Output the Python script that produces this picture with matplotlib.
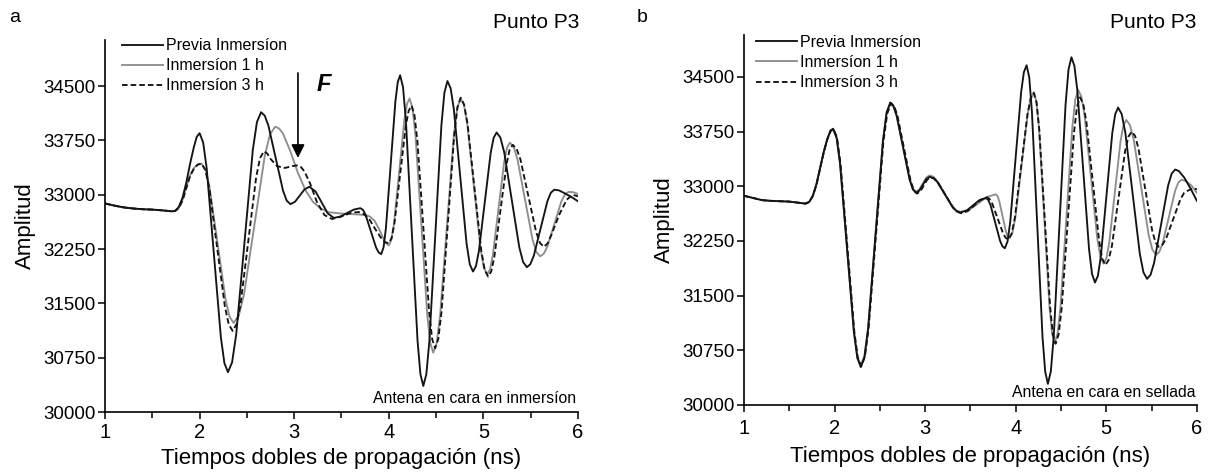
import matplotlib
matplotlib.use('Agg')
import matplotlib.pyplot as plt
from matplotlib.ticker import MultipleLocator

plt.rcParams['font.family'] = ['Liberation Sans', 'DejaVu Sans']

LABELS = ['Previa Inmersíon', 'Inmersíon 1 h', 'Inmersíon 3 h']
Y_TICKS = [30000, 30750, 31500, 32250, 33000, 33750, 34500]
X_TICKS = [1, 2, 3, 4, 5, 6]

# (tiempo ns, amplitud) leidos de la figura
# panel a - antena en cara en inmersion
a_prev = [(1.00, 32880), (1.10, 32850), (1.20, 32825), (1.30, 32810), (1.40, 32800), (1.50, 32795),
          (1.60, 32785), (1.70, 32772), (1.74, 32775), (1.78, 32830), (1.82, 32960), (1.86, 33170),
          (1.90, 33430), (1.94, 33660), (1.97, 33800), (2.00, 33850),
          (2.0375, 33725), (2.075, 33368), (2.15, 32200), (2.225, 31032), (2.2625, 30675), (2.30, 30550),
          (2.34375, 30686), (2.3875, 31074), (2.475, 32345), (2.5625, 33616), (2.60625, 34004), (2.65, 34140),
          (2.6888, 34092), (2.7275, 33955), (2.805, 33505), (2.8825, 33055), (2.9213, 32918), (2.96, 32870),
          (3.01, 32905), (3.06, 32990), (3.11, 33075), (3.16, 33110),
          (3.225, 33047), (3.29, 32895), (3.355, 32743), (3.42, 32680),
          (3.49, 32700), (3.56, 32748), (3.63, 32795), (3.70, 32815),
          (3.7275, 32791), (3.755, 32722), (3.81, 32498), (3.865, 32273), (3.8925, 32204), (3.92, 32180),
          (3.945, 32274), (3.97, 32541), (4.02, 33415), (4.07, 34289), (4.095, 34556), (4.12, 34650),
          (4.1506, 34487), (4.181, 34024), (4.2425, 32505), (4.304, 30986), (4.3344, 30523), (4.365, 30360),
          (4.3969, 30520), (4.429, 30975), (4.4925, 32465), (4.556, 33955), (4.5881, 34410), (4.62, 34570),
          (4.6538, 34470), (4.6875, 34186), (4.755, 33255), (4.8225, 32324), (4.8563, 32040), (4.89, 31940),
          (4.9213, 32013), (4.9525, 32220), (5.015, 32900), (5.0775, 33580), (5.1088, 33787), (5.14, 33860),
          (5.18, 33789), (5.22, 33588), (5.30, 32930), (5.38, 32272), (5.42, 32071), (5.46, 32000),
          (5.4963, 32041), (5.5325, 32156), (5.605, 32535), (5.6775, 32914), (5.7138, 33029), (5.75, 33070),
          (5.80, 33060), (5.86, 33020), (5.93, 32970), (6.00, 32910)]

a_1h = [(1.00, 32880), (1.10, 32850), (1.20, 32825), (1.30, 32810), (1.40, 32800), (1.50, 32795),
        (1.60, 32785), (1.70, 32772), (1.74, 32775), (1.78, 32820), (1.82, 32930), (1.86, 33110),
        (1.90, 33270), (1.94, 33370), (1.98, 33420), (2.02, 33430),
        (2.0625, 33346), (2.105, 33109), (2.19, 32330), (2.275, 31551), (2.3175, 31314), (2.36, 31230),
        (2.415, 31333), (2.47, 31626), (2.58, 32585), (2.69, 33544), (2.745, 33837), (2.80, 33940),
        (2.84, 33915), (2.88, 33850), (2.96, 33600), (3.04, 33300), (3.12, 33060), (3.20, 32900),
        (3.28, 32810), (3.36, 32760), (3.50, 32740), (3.65, 32730), (3.75, 32720), (3.80, 32700),
        (3.85, 32640), (3.90, 32520), (3.96, 32345), (4.00, 32300),
        (4.0275, 32377), (4.055, 32596), (4.11, 33315), (4.165, 34034), (4.1925, 34253), (4.22, 34330),
        (4.2513, 34197), (4.2825, 33818), (4.345, 32575), (4.4075, 31332), (4.4388, 30953), (4.47, 30820),
        (4.5063, 30953), (4.5425, 31332), (4.615, 32575), (4.6875, 33818), (4.7238, 34197), (4.76, 34330),
        (4.795, 34238), (4.83, 33975), (4.90, 33115), (4.97, 32255), (5.005, 31992), (5.04, 31900),
        (5.07, 31969), (5.10, 32166), (5.16, 32810), (5.22, 33454), (5.25, 33651), (5.28, 33720),
        (5.32, 33660), (5.36, 33491), (5.44, 32935), (5.52, 32379), (5.56, 32210), (5.60, 32150),
        (5.6375, 32184), (5.675, 32280), (5.75, 32595), (5.825, 32910), (5.8625, 33006), (5.90, 33040),
        (5.95, 33035), (6.00, 33010)]

a_3h = [(1.00, 32880), (1.10, 32850), (1.20, 32825), (1.30, 32810), (1.40, 32800), (1.50, 32795),
        (1.60, 32785), (1.70, 32772), (1.74, 32775), (1.78, 32815), (1.82, 32920), (1.86, 33090),
        (1.90, 33260), (1.94, 33360), (1.98, 33415), (2.02, 33430),
        (2.0613, 33342), (2.1025, 33093), (2.185, 32275), (2.2675, 31457), (2.3088, 31208), (2.35, 31120),
        (2.3913, 31214), (2.4325, 31482), (2.515, 32360), (2.5975, 33238), (2.6388, 33506), (2.68, 33600),
        (2.715, 33570), (2.75, 33495), (2.82, 33395), (2.90, 33370), (2.98, 33395), (3.03, 33405),
        (3.07, 33385), (3.11, 33320), (3.17, 33150), (3.24, 32900), (3.32, 32720), (3.40, 32665),
        (3.50, 32700), (3.60, 32750), (3.68, 32762), (3.74, 32730), (3.80, 32650), (3.86, 32520),
        (3.92, 32400), (3.96, 32345), (4.00, 32330),
        (4.03, 32402), (4.06, 32607), (4.12, 33280), (4.18, 33953), (4.21, 34158), (4.24, 34230),
        (4.2713, 34103), (4.3025, 33741), (4.365, 32555), (4.4275, 31369), (4.4588, 31007), (4.49, 30880),
        (4.5238, 31011), (4.5575, 31385), (4.625, 32610), (4.6925, 33835), (4.7263, 34209), (4.76, 34340),
        (4.7963, 34246), (4.8325, 33979), (4.905, 33105), (4.9775, 32231), (5.0138, 31964), (5.05, 31870),
        (5.0825, 31939), (5.115, 32136), (5.18, 32780), (5.245, 33424), (5.2775, 33621), (5.31, 33690),
        (5.3513, 33636), (5.3925, 33484), (5.475, 32985), (5.5575, 32486), (5.5988, 32334), (5.64, 32280),
        (5.68, 32330), (5.72, 32450), (5.80, 32720), (5.88, 32930), (5.94, 33000), (6.00, 32980)]

# panel b - antena en cara sellada
b_prev = [(1.00, 32870), (1.10, 32840), (1.20, 32810), (1.30, 32800), (1.40, 32795), (1.50, 32790),
          (1.60, 32775), (1.68, 32762), (1.72, 32785), (1.76, 32870), (1.80, 33030), (1.84, 33250),
          (1.88, 33470), (1.92, 33650), (1.955, 33765), (1.985, 33790),
          (2.0231, 33666), (2.061, 33313), (2.1375, 32155), (2.214, 30997), (2.2519, 30644), (2.29, 30520),
          (2.3306, 30658), (2.371, 31050), (2.4525, 32335), (2.534, 33620), (2.5744, 34012), (2.615, 34150),
          (2.6506, 34103), (2.686, 33969), (2.7575, 33530), (2.829, 33091), (2.8644, 32957), (2.90, 32910),
          (2.9375, 32942), (2.975, 33020), (3.0125, 33098), (3.05, 33130),
          (3.0925, 33111), (3.135, 33058), (3.22, 32885), (3.305, 32712), (3.3475, 32659), (3.39, 32640),
          (3.46, 32669), (3.53, 32740), (3.60, 32811), (3.67, 32840),
          (3.6963, 32814), (3.7225, 32739), (3.775, 32495), (3.8275, 32251), (3.8538, 32176), (3.88, 32150),
          (3.91, 32245), (3.94, 32516), (4.00, 33405), (4.06, 34294), (4.09, 34565), (4.12, 34660),
          (4.1494, 34494), (4.179, 34022), (4.2375, 32475), (4.296, 30928), (4.3256, 30456), (4.355, 30290),
          (4.3875, 30460), (4.42, 30944), (4.485, 32530), (4.55, 34116), (4.5825, 34600), (4.615, 34770),
          (4.6475, 34653), (4.68, 34319), (4.745, 33225), (4.81, 32131), (4.8425, 31797), (4.875, 31680),
          (4.9069, 31771), (4.939, 32030), (5.0025, 32880), (5.066, 33730), (5.0981, 33989), (5.13, 34080),
          (5.17, 33991), (5.21, 33737), (5.29, 32905), (5.37, 32073), (5.41, 31819), (5.45, 31730),
          (5.4888, 31787), (5.5275, 31949), (5.605, 32480), (5.6825, 33011), (5.7213, 33173), (5.76, 33230),
          (5.80, 33210), (5.86, 33120), (5.93, 32970), (6.00, 32800)]

b_1h = [(1.00, 32870), (1.10, 32840), (1.20, 32810), (1.30, 32800), (1.40, 32795), (1.50, 32790),
        (1.60, 32775), (1.68, 32762), (1.72, 32785), (1.76, 32865), (1.80, 33020), (1.84, 33240),
        (1.88, 33460), (1.92, 33640), (1.955, 33755), (1.985, 33780),
        (2.0231, 33660), (2.061, 33310), (2.1375, 32160), (2.214, 31010), (2.2519, 30660), (2.29, 30540),
        (2.3306, 30675), (2.371, 31060), (2.4525, 32340), (2.534, 33610), (2.5744, 33995), (2.615, 34130),
        (2.6506, 34090), (2.686, 33960), (2.7575, 33530), (2.829, 33100), (2.8644, 32970), (2.90, 32925),
        (2.9375, 32960), (2.975, 33040), (3.0125, 33120), (3.05, 33150),
        (3.0925, 33130), (3.135, 33070), (3.22, 32890), (3.305, 32715), (3.3475, 32665), (3.39, 32650),
        (3.4875, 32677), (3.585, 32765), (3.6825, 32853), (3.78, 32890),
        (3.7988, 32867), (3.8175, 32802), (3.855, 32590), (3.8925, 32378), (3.9113, 32313), (3.93, 32290),
        (3.9638, 32366), (3.9975, 32582), (4.065, 33290), (4.1325, 33998), (4.1663, 34214), (4.20, 34290),
        (4.2288, 34159), (4.2575, 33788), (4.315, 32570), (4.3725, 31352), (4.4013, 30981), (4.43, 30850),
        (4.4625, 30982), (4.495, 31357), (4.56, 32585), (4.625, 33813), (4.6575, 34188), (4.69, 34320),
        (4.725, 34230), (4.76, 33973), (4.83, 33130), (4.90, 32287), (4.935, 32030), (4.97, 31940),
        (5.0013, 32015), (5.0325, 32228), (5.095, 32925), (5.1575, 33622), (5.1888, 33835), (5.22, 33910),
        (5.2613, 33840), (5.3025, 33640), (5.385, 32985), (5.4675, 32330), (5.5088, 32130), (5.55, 32060),
        (5.585, 32099), (5.62, 32210), (5.69, 32575), (5.76, 32940), (5.795, 33051), (5.83, 33090),
        (5.88, 33070), (5.94, 33010), (6.00, 32910)]

b_3h = [(1.00, 32870), (1.10, 32840), (1.20, 32810), (1.30, 32800), (1.40, 32795), (1.50, 32790),
        (1.60, 32775), (1.68, 32762), (1.72, 32785), (1.76, 32865), (1.80, 33020), (1.84, 33240),
        (1.88, 33460), (1.92, 33645), (1.96, 33765), (1.99, 33785),
        (2.0281, 33665), (2.066, 33310), (2.1425, 32160), (2.219, 31000), (2.2569, 30650), (2.295, 30530),
        (2.3356, 30665), (2.376, 31050), (2.4575, 32330), (2.539, 33610), (2.5819, 34000), (2.625, 34140),
        (2.6606, 34095), (2.696, 33960), (2.7675, 33520), (2.839, 33080), (2.8744, 32945), (2.91, 32900),
        (2.9475, 32930), (2.985, 33010), (3.0225, 33090), (3.06, 33125),
        (3.10, 33105), (3.14, 33055), (3.225, 32880), (3.31, 32705), (3.355, 32650), (3.40, 32630),
        (3.47, 32660), (3.54, 32735), (3.61, 32810), (3.68, 32850),
        (3.71, 32828), (3.74, 32765), (3.80, 32560), (3.86, 32355), (3.89, 32292), (3.92, 32270),
        (3.955, 32346), (3.99, 32563), (4.06, 33275), (4.13, 33987), (4.165, 34204), (4.20, 34280),
        (4.23, 34149), (4.26, 33778), (4.32, 32560), (4.38, 31342), (4.41, 30971), (4.44, 30840),
        (4.4738, 30968), (4.5075, 31333), (4.575, 32530), (4.6425, 33727), (4.6763, 34092), (4.71, 34220),
        (4.745, 34133), (4.78, 33884), (4.85, 33070), (4.92, 32256), (4.955, 32007), (4.99, 31920),
        (5.0263, 31990), (5.0625, 32187), (5.135, 32835), (5.2075, 33483), (5.2438, 33680), (5.28, 33750),
        (5.3175, 33690), (5.355, 33519), (5.43, 32960), (5.505, 32401), (5.5425, 32230), (5.58, 32170),
        (5.62, 32199), (5.66, 32282), (5.74, 32555), (5.82, 32828), (5.86, 32911), (5.90, 32940),
        (5.95, 32970), (6.00, 32960)]

GRAY = '#8e8e8e'
BLACK = '#141414'


def draw_panel(ax, series, ymax, note, leg_anchor, xpad, xlabelpad):
    styles = [dict(color=BLACK, zorder=3), dict(color=GRAY, zorder=2),
              dict(color=BLACK, ls=(0, (3, 1.6)), zorder=4)]
    for pts, label, st in zip(series, LABELS, styles):
        xs = [p[0] for p in pts]
        ys = [p[1] for p in pts]
        ax.plot(xs, ys, lw=1.35, label=label, **st)
    ax.set_xlim(1, 6)
    ax.set_ylim(30000, ymax)
    ax.set_xticks(X_TICKS)
    ax.set_yticks(Y_TICKS)
    ax.xaxis.set_minor_locator(MultipleLocator(0.5))
    for s in ['top', 'right']:
        ax.spines[s].set_visible(False)
    for s in ['left', 'bottom']:
        ax.spines[s].set_linewidth(1.2)
    ax.tick_params(axis='both', which='major', direction='out', length=5, width=1.1,
                   labelsize=13.5, pad=2)
    ax.tick_params(axis='x', which='minor', direction='out', length=4, width=1.1)
    ax.tick_params(axis='x', which='major', pad=xpad, labelsize=14.5)
    ax.set_xlabel('Tiempos dobles de propagación (ns)', fontsize=16, labelpad=xlabelpad)
    ax.set_ylabel('Amplitud', fontsize=16, labelpad=5)
    ax.text(0.996, 0.035, note, transform=ax.transAxes, ha='right', va='center', fontsize=11.3)
    ax.legend(loc='upper left', bbox_to_anchor=leg_anchor, frameon=False, fontsize=11.5,
              handlelength=2.6, handletextpad=0.2, labelspacing=0.32, borderpad=0,
              borderaxespad=0)


fig = plt.figure(figsize=(12.15, 4.75), dpi=100)
ax_a = fig.add_axes([0.0864, 0.1326, 0.3893, 0.7832])
ax_b = fig.add_axes([0.6123, 0.1474, 0.3728, 0.7790])

draw_panel(ax_a, [a_prev, a_1h, a_3h], 35137, 'Antena en cara en inmersíon', (0.035, 1.005), 3, 4)
draw_panel(ax_b, [b_prev, b_1h, b_3h], 35076, 'Antena en cara en sellada', (0.026, 1.0), 5, 6)

ax_a.text(1.004, 1.048, 'Punto P3', transform=ax_a.transAxes, ha='right', va='center', fontsize=15)
ax_b.text(0.998, 1.035, 'Punto P3', transform=ax_b.transAxes, ha='right', va='center', fontsize=15)

# marca F sobre el hombro de la curva de 3 h
ax_a.annotate('', xy=(3.04, 33470), xytext=(3.04, 34720),
              arrowprops=dict(arrowstyle='-|>', color='black', lw=1.2, mutation_scale=20))
ax_a.text(3.31, 34520, 'F', fontsize=17, fontweight='bold', fontstyle='italic',
          ha='center', va='center')

fig.text(15 / 1215, 1 - 17 / 475, 'a', fontsize=14, va='center', ha='center')
fig.text(642 / 1215, 1 - 17 / 475, 'b', fontsize=14, va='center', ha='center')

fig.savefig('out.png', dpi=100)
plt.close(fig)
